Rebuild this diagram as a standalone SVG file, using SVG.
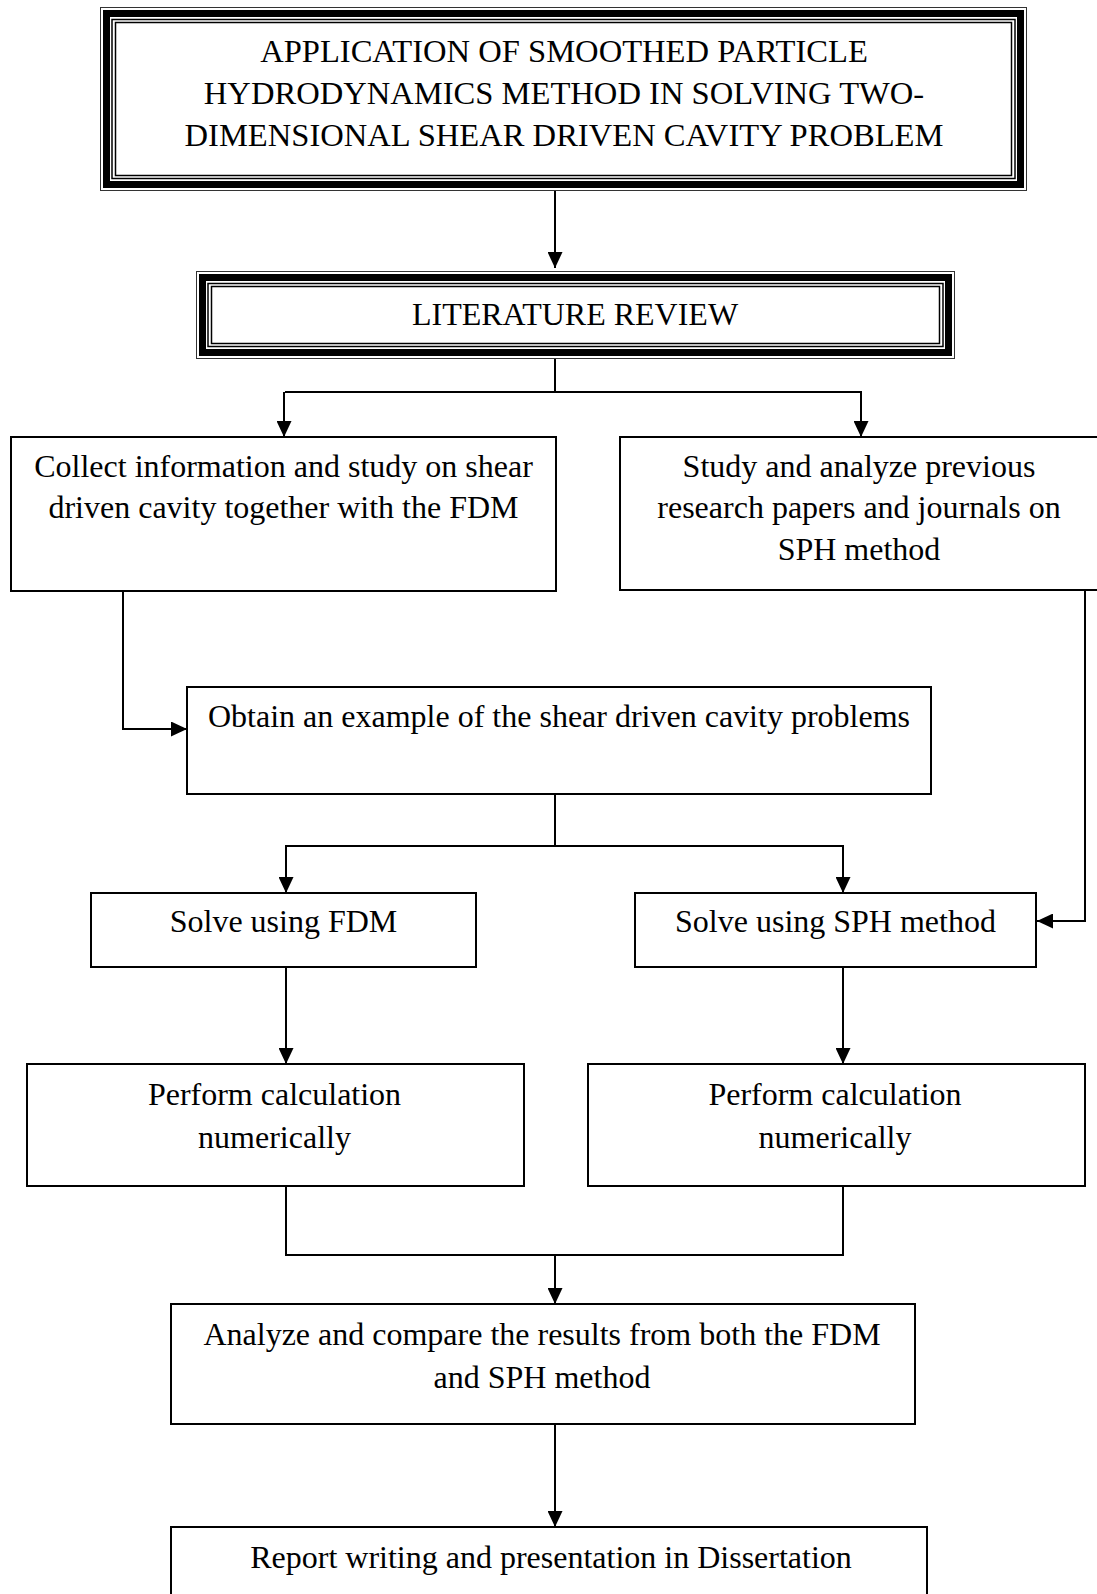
<svg xmlns="http://www.w3.org/2000/svg" width="1097" height="1594" viewBox="0 0 1097 1594">
<style>
.box{fill:#fff;stroke:#000;stroke-width:2}
.thin{fill:none;stroke:#000;stroke-width:1.5}
.hair{fill:none;stroke:#333;stroke-width:1}
.thick{fill:none;stroke:#000;stroke-width:7}
.t{font-family:"Liberation Serif","Times New Roman",serif;font-size:32px;fill:#000;text-anchor:middle}
.tt{font-size:32.6px}
.c{fill:none;stroke:#000;stroke-width:2}
</style>
<defs>
<marker id="ah" viewBox="0 0 16 15" refX="16" refY="7.5" markerWidth="16" markerHeight="15" markerUnits="userSpaceOnUse" orient="auto">
<path d="M0,0 L16,7.5 L0,15 z" fill="#000"/>
</marker>
</defs>
<rect width="1097" height="1594" fill="#fff"/>

<g id="connectors">
<path class="c" d="M555,191 V268" marker-end="url(#ah)"/>
<path class="c" d="M555,359 V392 M285,392 H861"/>
<path class="c" d="M284,392 V437" marker-end="url(#ah)"/>
<path class="c" d="M861,391 V437" marker-end="url(#ah)"/>
<path class="c" d="M123,591 V729 H187" marker-end="url(#ah)"/>
<path class="c" d="M1085,590 V921 H1037" marker-end="url(#ah)"/>
<path class="c" d="M555,794 V846 M285,846 H844"/>
<path class="c" d="M286,845 V893" marker-end="url(#ah)"/>
<path class="c" d="M843,845 V893" marker-end="url(#ah)"/>
<path class="c" d="M286,967 V1064" marker-end="url(#ah)"/>
<path class="c" d="M843,967 V1064" marker-end="url(#ah)"/>
<path class="c" d="M286,1186 V1255 H843 V1186"/>
<path class="c" d="M555,1255 V1304" marker-end="url(#ah)"/>
<path class="c" d="M555,1424 V1527" marker-end="url(#ah)"/>
</g>

<g id="title">
<rect class="hair" x="100.5" y="7.5" width="926" height="183"/>
<rect class="thick" x="106.5" y="13.5" width="914" height="171"/>
<rect class="thin" x="112" y="19.5" width="903" height="159"/>
<rect class="thin" x="115.5" y="22.5" width="896" height="153"/>
<text class="t tt" x="564" y="62">APPLICATION OF SMOOTHED PARTICLE</text>
<text class="t tt" x="564" y="104">HYDRODYNAMICS METHOD IN SOLVING TWO-</text>
<text class="t tt" x="564" y="146">DIMENSIONAL SHEAR DRIVEN CAVITY PROBLEM</text>
</g>

<g id="literature">
<rect class="hair" x="196.5" y="271.5" width="758" height="87"/>
<rect class="thick" x="202.5" y="277.5" width="746" height="75"/>
<rect class="thin" x="208" y="283.5" width="735" height="63"/>
<rect class="thin" x="211.5" y="286.5" width="728" height="57"/>
<text class="t" x="575" y="325">LITERATURE REVIEW</text>
</g>

<g id="collect">
<rect class="box" x="11" y="437" width="545" height="154"/>
<text class="t" x="283.5" y="477">Collect information and study on shear</text>
<text class="t" x="283.5" y="518">driven cavity together with the FDM</text>
</g>

<g id="study">
<rect class="box" x="620" y="437" width="478" height="153"/>
<text class="t" x="859" y="477">Study and analyze previous</text>
<text class="t" x="859" y="518">research papers and journals on</text>
<text class="t" x="859" y="560">SPH method</text>
</g>

<g id="obtain">
<rect class="box" x="187" y="687" width="744" height="107"/>
<text class="t" x="559" y="727">Obtain an example of the shear driven cavity problems</text>
</g>

<g id="solve-fdm">
<rect class="box" x="91" y="893" width="385" height="74"/>
<text class="t" x="283.5" y="932">Solve using FDM</text>
</g>

<g id="solve-sph">
<rect class="box" x="635" y="893" width="401" height="74"/>
<text class="t" x="835.5" y="932">Solve using SPH method</text>
</g>

<g id="perform-fdm">
<rect class="box" x="27" y="1064" width="497" height="122"/>
<text class="t" x="274.5" y="1105">Perform calculation</text>
<text class="t" x="274.5" y="1148">numerically</text>
</g>

<g id="perform-sph">
<rect class="box" x="588" y="1064" width="497" height="122"/>
<text class="t" x="835" y="1105">Perform calculation</text>
<text class="t" x="835" y="1148">numerically</text>
</g>

<g id="analyze">
<rect class="box" x="171" y="1304" width="744" height="120"/>
<text class="t" x="542" y="1345">Analyze and compare the results from both the FDM</text>
<text class="t" x="542" y="1388">and SPH method</text>
</g>

<g id="report">
<rect class="box" x="171" y="1527" width="756" height="80"/>
<text class="t" x="551" y="1568">Report writing and presentation in Dissertation</text>
</g>
</svg>
